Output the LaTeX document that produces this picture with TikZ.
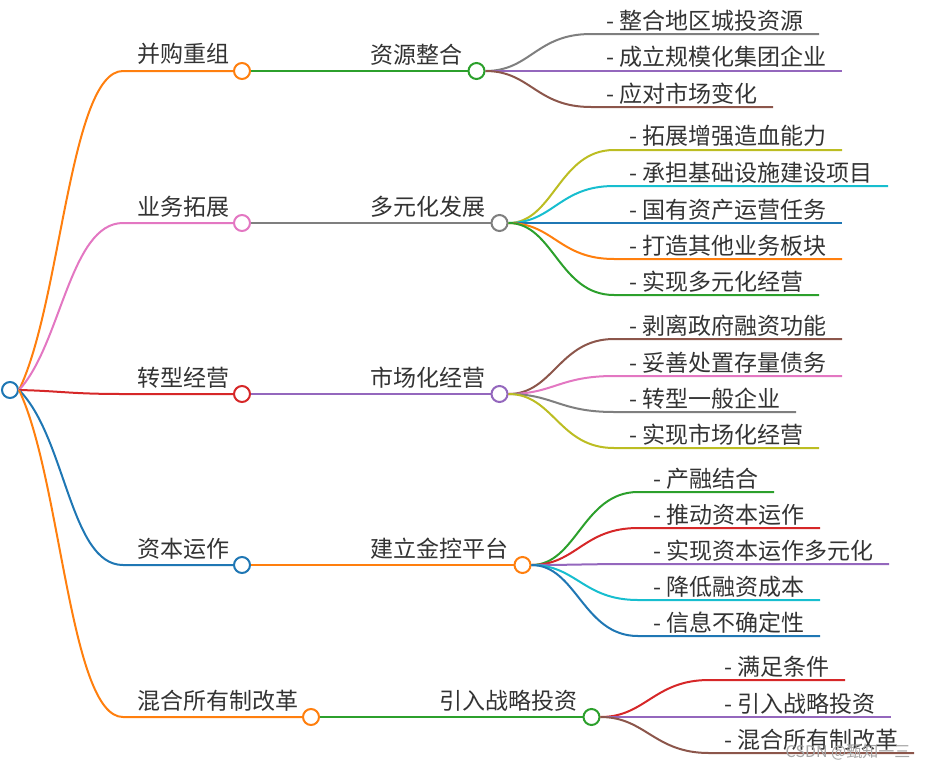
\documentclass[tikz,border=0pt]{standalone}
\usepackage{fontspec}
\setmainfont{Noto Sans CJK SC}
\usepackage{tikz,xcolor}
\usetikzlibrary{positioning}

\definecolor{tblue}{HTML}{1F77B4}
\definecolor{torange}{HTML}{FF7F0E}
\definecolor{tgreen}{HTML}{2CA02C}
\definecolor{tred}{HTML}{D62728}
\definecolor{tpurple}{HTML}{9467BD}
\definecolor{tbrown}{HTML}{8C564B}
\definecolor{tpink}{HTML}{E377C2}
\definecolor{tgray}{HTML}{7F7F7F}
\definecolor{tolive}{HTML}{BCBD22}
\definecolor{tcyan}{HTML}{17BECF}

\begin{document}
\begin{tikzpicture}[
        x=1pt, y=-1pt,
        line width=2pt,
        hub/.style={circle, draw, fill=white, minimum size=16pt, inner sep=0pt},
        topic/.style={anchor=south west, inner xsep=0pt, inner ysep=6pt, outer sep=0pt, text=black!80, font=\fontsize{23}{28}\selectfont},
        leaf/.style={anchor=south west, inner xsep=15.5pt, inner ysep=3pt, outer sep=0pt, text=black!80, font=\fontsize{23}{28}\selectfont},
        fan/.style={to path={.. controls +(45,0) and +(-55,0) .. (\tikztotarget)}},
        wmark/.style={text=black!35, font=\fontsize{16}{18}\selectfont}
    ]
        \useasboundingbox (0,0) rectangle (933,771);

        % Root
        \node[hub, draw=tblue] (ROOT) at (10,390) {};

        % First level topics
        \node[topic] (MERGE) at (137,71) {并购重组};
        \node[hub, draw=torange, right=4pt of MERGE.south east] (MERGEH) {};
        \node[topic] (BIZ) at (137,223) {业务拓展};
        \node[hub, draw=tpink, right=4pt of BIZ.south east] (BIZH) {};
        \node[topic] (TRANS) at (137,394) {转型经营};
        \node[hub, draw=tred, right=4pt of TRANS.south east] (TRANSH) {};
        \node[topic] (CAP) at (137,565) {资本运作};
        \node[hub, draw=tblue, right=4pt of CAP.south east] (CAPH) {};
        \node[topic] (MIX) at (137,717) {混合所有制改革};
        \node[hub, draw=torange, right=4pt of MIX.south east] (MIXH) {};

        % Root -> first level
        \draw[torange] (ROOT.east) .. controls +(42,-86) and +(-53,0) .. ([xshift=-14pt]MERGE.south west) -- (MERGEH);
        \draw[tpink] (ROOT.east) .. controls +(42,-45) and +(-53,0) .. ([xshift=-14pt]BIZ.south west) -- (BIZH);
        \draw[tred] (ROOT.east) .. controls +(42,1) and +(-53,0) .. ([xshift=-14pt]TRANS.south west) -- (TRANSH);
        \draw[tblue] (ROOT.east) .. controls +(47,47) and +(-53,0) .. ([xshift=-14pt]CAP.south west) -- (CAPH);
        \draw[torange] (ROOT.east) .. controls +(42,88) and +(-53,0) .. ([xshift=-14pt]MIX.south west) -- (MIXH);

        % Second level topics
        \node[topic, above right=0pt and 119pt of MERGEH.east] (RES) {资源整合};
        \node[hub, draw=tgreen, right=5.5pt of RES.south east] (RESH) {};
        \node[topic, above right=0pt and 119pt of BIZH.east] (DIV) {多元化发展};
        \node[hub, draw=tgray, right=5.5pt of DIV.south east] (DIVH) {};
        \node[topic, above right=0pt and 119pt of TRANSH.east] (MKT) {市场化经营};
        \node[hub, draw=tpurple, right=5.5pt of MKT.south east] (MKTH) {};
        \node[topic, above right=0pt and 119pt of CAPH.east] (FIN) {建立金控平台};
        \node[hub, draw=torange, right=5.5pt of FIN.south east] (FINH) {};
        \node[topic, above right=0pt and 119pt of MIXH.east] (STRAT) {引入战略投资};
        \node[hub, draw=tgreen, right=5.5pt of STRAT.south east] (STRATH) {};

        % First level -> second level
        \draw[tgreen] (MERGEH) -- (RESH);
        \draw[tgray] (BIZH) -- (DIVH);
        \draw[tpurple] (TRANSH) -- (MKTH);
        \draw[torange] (CAPH) -- (FINH);
        \draw[tgreen] (MIXH) -- (STRATH);

        % Leaves of 资源整合
        \node[leaf] (RES1) at (591,34) {- 整合地区城投资源};
        \node[leaf] (RES2) at (591,71) {- 成立规模化集团企业};
        \node[leaf] (RES3) at (591,107) {- 应对市场变化};
        \draw[tgray] (RESH.east) to[fan] (RES1.south west) -- (RES1.south east);
        \draw[tpurple] (RESH.east) to[fan] (RES2.south west) -- (RES2.south east);
        \draw[tbrown] (RESH.east) to[fan] (RES3.south west) -- (RES3.south east);

        % Leaves of 多元化发展
        \node[leaf] (DIV1) at (614,150) {- 拓展增强造血能力};
        \node[leaf] (DIV2) at (614,186) {- 承担基础设施建设项目};
        \node[leaf] (DIV3) at (614,223) {- 国有资产运营任务};
        \node[leaf] (DIV4) at (614,259) {- 打造其他业务板块};
        \node[leaf] (DIV5) at (614,295) {- 实现多元化经营};
        \draw[tolive] (DIVH.east) to[fan] (DIV1.south west) -- (DIV1.south east);
        \draw[tcyan] (DIVH.east) to[fan] (DIV2.south west) -- (DIV2.south east);
        \draw[tblue] (DIVH.east) to[fan] (DIV3.south west) -- (DIV3.south east);
        \draw[torange] (DIVH.east) to[fan] (DIV4.south west) -- (DIV4.south east);
        \draw[tgreen] (DIVH.east) to[fan] (DIV5.south west) -- (DIV5.south east);

        % Leaves of 市场化经营
        \node[leaf] (MKT1) at (614,339) {- 剥离政府融资功能};
        \node[leaf] (MKT2) at (614,376) {- 妥善处置存量债务};
        \node[leaf] (MKT3) at (614,412) {- 转型一般企业};
        \node[leaf] (MKT4) at (614,448) {- 实现市场化经营};
        \draw[tbrown] (MKTH.east) to[fan] (MKT1.south west) -- (MKT1.south east);
        \draw[tpink] (MKTH.east) to[fan] (MKT2.south west) -- (MKT2.south east);
        \draw[tgray] (MKTH.east) to[fan] (MKT3.south west) -- (MKT3.south east);
        \draw[tolive] (MKTH.east) to[fan] (MKT4.south west) -- (MKT4.south east);

        % Leaves of 建立金控平台
        \node[leaf] (FIN1) at (638,492) {- 产融结合};
        \node[leaf] (FIN2) at (638,528) {- 推动资本运作};
        \node[leaf] (FIN3) at (638,564) {- 实现资本运作多元化};
        \node[leaf] (FIN4) at (638,600) {- 降低融资成本};
        \node[leaf] (FIN5) at (638,636) {- 信息不确定性};
        \draw[tgreen] (FINH.east) to[fan] (FIN1.south west) -- (FIN1.south east);
        \draw[tred] (FINH.east) to[fan] (FIN2.south west) -- (FIN2.south east);
        \draw[tpurple] (FINH.east) to[fan] (FIN3.south west) -- (FIN3.south east);
        \draw[tcyan] (FINH.east) to[fan] (FIN4.south west) -- (FIN4.south east);
        \draw[tblue] (FINH.east) to[fan] (FIN5.south west) -- (FIN5.south east);

        % Leaves of 引入战略投资
        \node[leaf] (STRAT1) at (709,680) {- 满足条件};
        \node[leaf] (STRAT2) at (709,717) {- 引入战略投资};
        \node[leaf] (STRAT3) at (709,753) {- 混合所有制改革};
        \draw[tred] (STRATH.east) to[fan] (STRAT1.south west) -- (STRAT1.south east);
        \draw[tpurple] (STRATH.east) to[fan] (STRAT2.south west) -- (STRAT2.south east);
        \draw[tbrown] (STRATH.east) to[fan] (STRAT3.south west) -- (STRAT3.south east);

        % Watermark
        \node[wmark] (WM) at (848,752) {CSDN @甄知一三};
    \end{tikzpicture}
\end{document}
